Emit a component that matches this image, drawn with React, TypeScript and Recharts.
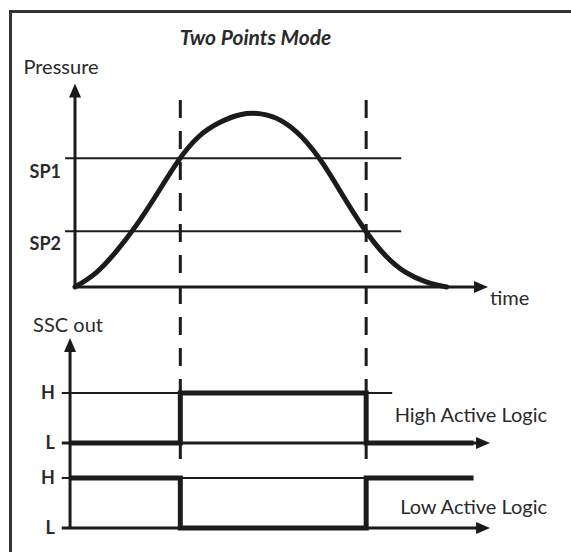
import React from 'react';
import { ComposedChart, Line, XAxis, YAxis, ReferenceLine } from 'recharts';

// pressure curve (pressure as % of peak)
const curveTime = [0, 5, 10, 15, 20, 25, 30, 35, 40, 45, 50, 55, 60, 65, 70, 75, 80, 85, 90];
const pressure = [0, 8, 20.5, 36, 54, 72.5, 86.5, 94.5, 99, 99.5, 95.5, 86, 71, 52, 33.5, 18.5, 8.5, 3, 0];

const SP1 = 74;
const SP2 = 32;
const switchOn = 25.5; // rising pressure passes SP1
const switchOff = 70.5; // falling pressure passes SP2

// output levels, 0 = L, 1 = H
const stepTime = [-1.2, switchOn, switchOff, 96.5];
const highActive = [0, 1, 0, 0];
const lowActive = [1, 0, 1, 1];
const levelLabels = ['L', 'H'];

const curveData = curveTime.map((t, i) => ({ t, p: pressure[i] }));
const stepData = stepTime.map((t, i) => ({ t, hi: highActive[i], lo: lowActive[i] }));

// layout
const W = 571;
const H = 552;
const T0_PX = 75;
const PX_PER_T = 4.13;
const P0_PX = 287;
const PX_PER_P = 1.74;
const HI0_PX = 443;
const LO0_PX = 528;
const PX_PER_LEVEL = 50;

const domainFor = (zeroPx: number, perUnit: number, size: number) => [-(size - zeroPx) / perUnit, zeroPx / perUnit];
const xDomain = [-T0_PX / PX_PER_T, (W - T0_PX) / PX_PER_T];

const INK = '#1b1b1b';
const TEXT = '#2a2a2a';
const FONT = 'Lato, "Open Sans", sans-serif';

const axisT = 0;
const sscAxisT = -1.2;
const tickT = -3.2;
const timeEnd = 100;
const levelAxisEnd = 100.5;
const pressureTop = 117;
const sscTop = 3.8;
const dashTop = 107.5;
const dashBottom = -103.5;

function Arrow(props: any) {
  const { x1, y1, x2, y2, stroke, strokeWidth } = props;
  const a = Math.atan2(y2 - y1, x2 - x1);
  const len = 14;
  const half = 6;
  const bx = x2 - len * Math.cos(a);
  const by = y2 - len * Math.sin(a);
  const pts = [
    [x2, y2],
    [bx - half * Math.sin(a), by + half * Math.cos(a)],
    [bx + half * Math.sin(a), by - half * Math.cos(a)],
  ]
    .map((p) => p.join(','))
    .join(' ');
  return (
    <g>
      <line x1={x1} y1={y1} x2={bx + Math.cos(a)} y2={by + Math.sin(a)} stroke={stroke} strokeWidth={strokeWidth} />
      <polygon points={pts} fill={stroke} />
    </g>
  );
}

// label placed relative to the reference line's box
const tag =
  (value: string, dx: number, dy: number, anchor: 'start' | 'middle' | 'end', bold = false, size = 20, fromRight = false) =>
  (p: any) => {
    const vb = p.viewBox || {};
    const x = (fromRight ? vb.x + vb.width : vb.x) + dx;
    return (
      <text x={x} y={vb.y + dy} textAnchor={anchor} fontFamily={FONT} fontSize={size} fontWeight={bold ? 700 : 400} fill={TEXT}>
        {value}
      </text>
    );
  };

export default function App() {
  return (
    <div style={{ position: 'absolute', left: 0, top: 0, width: W, height: H, background: '#fff' }}>
      <div
        style={{
          position: 'absolute',
          left: 9,
          top: 10,
          right: 0,
          bottom: 0,
          borderLeft: `3px solid #333`,
          borderTop: `3px solid #333`,
        }}
      />
      <div
        style={{
          position: 'absolute',
          left: 0,
          width: 511,
          top: 25,
          textAlign: 'center',
          fontFamily: FONT,
          fontSize: 21,
          fontWeight: 700,
          fontStyle: 'italic',
          color: TEXT,
          lineHeight: '24px',
        }}
      >
        Two Points Mode
      </div>
      <div style={{ position: 'absolute', left: 0, top: 0 }}>
        <ComposedChart width={W} height={H} margin={{ top: 0, right: 0, bottom: 0, left: 0 }}>
          <XAxis type="number" dataKey="t" domain={xDomain} hide allowDataOverflow />
          <YAxis yAxisId="p" type="number" domain={domainFor(P0_PX, PX_PER_P, H)} hide allowDataOverflow />
          <YAxis yAxisId="hi" type="number" domain={domainFor(HI0_PX, PX_PER_LEVEL, H)} hide allowDataOverflow />
          <YAxis yAxisId="lo" type="number" domain={domainFor(LO0_PX, PX_PER_LEVEL, H)} hide allowDataOverflow />

          {/* pressure diagram */}
          <ReferenceLine
            yAxisId="p"
            segment={[{ x: tickT + 0.8, y: SP1 }, { x: 79, y: SP1 }]}
            stroke={INK}
            strokeWidth={2}
            label={tag('SP1', -4, 20, 'end', true, 18)}
          />
          <ReferenceLine
            yAxisId="p"
            segment={[{ x: tickT + 0.8, y: SP2 }, { x: 79, y: SP2 }]}
            stroke={INK}
            strokeWidth={2}
            label={tag('SP2', -4, 19, 'end', true, 18)}
          />
          <ReferenceLine
            yAxisId="p"
            segment={[{ x: axisT, y: 0 }, { x: axisT, y: pressureTop }]}
            stroke={INK}
            strokeWidth={3}
            shape={Arrow}
            label={tag('Pressure', -14, -9, 'middle')}
          />
          <ReferenceLine
            yAxisId="p"
            segment={[{ x: axisT, y: 0 }, { x: timeEnd, y: 0 }]}
            stroke={INK}
            strokeWidth={3}
            shape={Arrow}
            label={tag('time', 2, 18, 'start', false, 20, true)}
          />

          {/* output diagram */}
          <ReferenceLine
            yAxisId="lo"
            segment={[{ x: sscAxisT, y: 0 }, { x: sscAxisT, y: sscTop }]}
            stroke={INK}
            strokeWidth={3}
            shape={Arrow}
            label={tag('SSC out', -2, -6, 'middle')}
          />
          <ReferenceLine
            yAxisId="hi"
            segment={[{ x: tickT, y: 1 }, { x: 76.8, y: 1 }]}
            stroke={INK}
            strokeWidth={2}
            label={tag(levelLabels[1], -7, 6, 'end', true, 18)}
          />
          <ReferenceLine
            yAxisId="hi"
            segment={[{ x: tickT, y: 0 }, { x: levelAxisEnd, y: 0 }]}
            stroke={INK}
            strokeWidth={3}
            shape={Arrow}
            label={tag(levelLabels[0], -7, 6, 'end', true, 18)}
          />
          <ReferenceLine
            yAxisId="hi"
            segment={[{ x: tickT, y: 0 }, { x: levelAxisEnd, y: 0 }]}
            stroke="none"
            label={tag('High Active Logic', 57, -21, 'end', false, 20, true)}
          />
          <ReferenceLine
            yAxisId="lo"
            segment={[{ x: tickT, y: 1 }, { x: switchOff, y: 1 }]}
            stroke={INK}
            strokeWidth={2}
            label={tag(levelLabels[1], -7, 6, 'end', true, 18)}
          />
          <ReferenceLine
            yAxisId="lo"
            segment={[{ x: tickT, y: 0 }, { x: levelAxisEnd, y: 0 }]}
            stroke={INK}
            strokeWidth={3}
            shape={Arrow}
            label={tag(levelLabels[0], -7, 6, 'end', true, 18)}
          />
          <ReferenceLine
            yAxisId="lo"
            segment={[{ x: tickT, y: 0 }, { x: levelAxisEnd, y: 0 }]}
            stroke="none"
            label={tag('Low Active Logic', 57, -14, 'end', false, 20, true)}
          />

          {/* switching instants */}
          <ReferenceLine
            yAxisId="p"
            segment={[{ x: switchOn, y: dashTop }, { x: switchOn, y: dashBottom }]}
            stroke={INK}
            strokeWidth={3}
            strokeDasharray="18 13"
          />
          <ReferenceLine
            yAxisId="p"
            segment={[{ x: switchOff, y: dashTop }, { x: switchOff, y: dashBottom }]}
            stroke={INK}
            strokeWidth={3}
            strokeDasharray="18 13"
          />

          <Line
            yAxisId="p"
            data={curveData}
            dataKey="p"
            type="natural"
            stroke={INK}
            strokeWidth={5}
            strokeLinecap="round"
            dot={false}
            activeDot={false}
            isAnimationActive={false}
          />
          <Line
            yAxisId="hi"
            data={stepData}
            dataKey="hi"
            type="stepAfter"
            stroke={INK}
            strokeWidth={5}
            dot={false}
            activeDot={false}
            isAnimationActive={false}
          />
          <Line
            yAxisId="lo"
            data={stepData}
            dataKey="lo"
            type="stepAfter"
            stroke={INK}
            strokeWidth={5}
            dot={false}
            activeDot={false}
            isAnimationActive={false}
          />
        </ComposedChart>
      </div>
    </div>
  );
}
